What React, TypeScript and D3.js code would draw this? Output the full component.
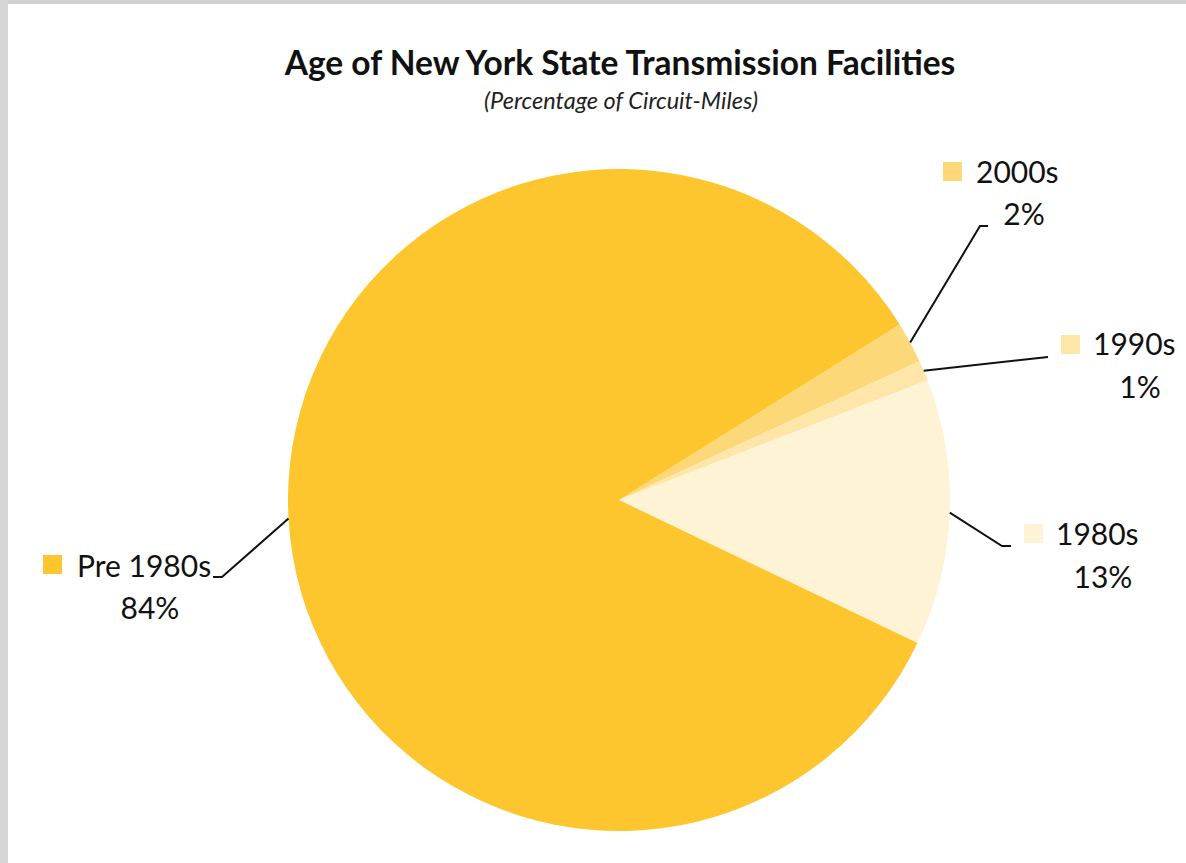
import React from "react";
import * as d3 from "d3";

const categories = ["2000s", "1990s", "1980s", "Pre 1980s"];
const values = [2, 1, 13, 84];
const labels = ["2%", "1%", "13%", "84%"];
const colors = ["#FDD878", "#FEE6A8", "#FFF3D6", "#FEC62E"];

const W = 1186;
const H = 863;
const cx = 619;
const cy = 500;
const R = 331;
const startDeg = 58;

// layout of each outside label: legend square / text / value positions and leader elbow
const labelLayout = [
  { sq: [943, 162], tx: 976, ty: 183, vx: 1024, vy: 225, elbow: [980, 226], end: [988, 226] },
  { sq: [1061, 335], tx: 1093, ty: 355, vx: 1140, vy: 398, elbow: [1048, 357], end: [1048, 357] },
  { sq: [1024, 524], tx: 1056, ty: 545, vx: 1103, vy: 588, elbow: [1002, 546], end: [1011, 546] },
  { sq: [43, 555], tx: 77, ty: 577, vx: 150, vy: 619, elbow: [222, 577], end: [213, 577] },
];

export default function App() {
  React.useEffect(() => {
    document.body.style.margin = "0";
  }, []);
  const start = (startDeg * Math.PI) / 180;
  const pie = d3
    .pie<number>()
    .sort(null)
    .value((d) => d)
    .startAngle(start)
    .endAngle(start + 2 * Math.PI);
  const arcs = pie(values);
  const arc = d3.arc<d3.PieArcDatum<number>>().innerRadius(0).outerRadius(R);
  const font = "Lato, 'Open Sans', sans-serif";

  return (
    <svg width={W} height={H} style={{ display: "block" }}>
      <rect x={0} y={0} width={W} height={H} fill="#ffffff" />
      <rect x={0} y={0} width={W} height={4} fill="#d2d2d2" />
      <rect x={0} y={0} width={8} height={H} fill="#d6d6d6" />
      <text x={620} y={75} textAnchor="middle" fontFamily={font} fontWeight="bold" fontSize={33.5} fill="#111">
        Age of New York State Transmission Facilities
      </text>
      <text x={621} y={109} textAnchor="middle" fontFamily={font} fontStyle="italic" fontSize={23.5} fill="#222">
        (Percentage of Circuit-Miles)
      </text>
      <g transform={`translate(${cx},${cy})`}>
        {arcs.map((a, i) => (
          <path key={categories[i]} d={arc(a) || ""} fill={colors[i]} />
        ))}
      </g>
      {arcs.map((a, i) => {
        const mid = (a.startAngle + a.endAngle) / 2;
        const px = cx + R * Math.sin(mid);
        const py = cy - R * Math.cos(mid);
        const L = labelLayout[i];
        return (
          <g key={"lab" + i}>
            <polyline
              points={`${px},${py} ${L.elbow[0]},${L.elbow[1]} ${L.end[0]},${L.end[1]}`}
              fill="none"
              stroke="#111"
              strokeWidth={2}
            />
            <rect x={L.sq[0]} y={L.sq[1]} width={19} height={19} fill={colors[i]} />
            <text x={L.tx} y={L.ty} fontFamily={font} fontSize={30} fill="#111">
              {categories[i]}
            </text>
            <text x={L.vx} y={L.vy} textAnchor="middle" fontFamily={font} fontSize={30} fill="#111">
              {labels[i]}
            </text>
          </g>
        );
      })}
    </svg>
  );
}
